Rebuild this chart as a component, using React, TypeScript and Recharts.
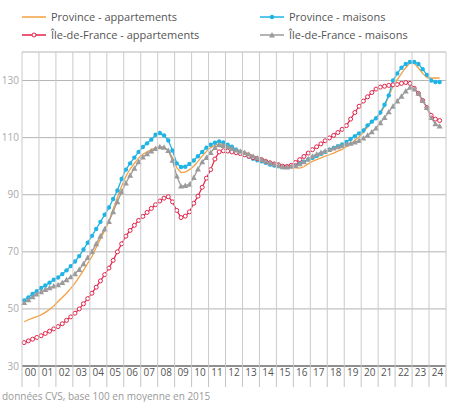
import React from "react"
import { LineChart, Line, XAxis, YAxis, CartesianGrid } from "recharts"

// quarterly indices, 2000 Q1 -> 2024 Q3
const years = ["00", "01", "02", "03", "04", "05", "06", "07", "08", "09", "10", "11", "12",
  "13", "14", "15", "16", "17", "18", "19", "20", "21", "22", "23", "24"]

const provAppart = [
  45.5, 46.2, 46.8, 47.3, 47.9, 48.8, 49.8, 51, 52.6, 54, 55.5, 57.2,
  59, 61.2, 63.5, 66, 68.4, 71.5, 74.5, 77.5, 80.6, 85, 89, 93,
  96.5, 99, 101, 102.8, 104.2, 105, 105.8, 106.5, 106.7, 106.5, 105.5, 103,
  99.5, 97.8, 97.9, 98.8, 100, 101.7, 103.5, 105.2, 106.5, 107.3, 107.9, 107.6,
  107.3, 106.6, 105.9, 105.4, 105, 104.3, 103.6, 103.1, 102.7, 102, 101.3, 100.8,
  100.4, 100, 99.7, 99.5, 99.4, 99.3, 99.8, 100.8, 101.7, 102.3, 102.9, 103.5,
  104, 104.6, 105.3, 105.9, 106.8, 107.8, 109, 110.3, 111.8, 113.8, 115.5, 117,
  118.3, 121, 124.5, 128, 130.2, 132.5, 134.5, 136.2, 136, 134.4, 132.5, 131,
  130.9, 130.9, 130.9,
]

const provMaisons = [
  53, 54, 55.2, 56.2, 57.3, 58.2, 59.2, 60.2, 61, 62.2, 63.5, 65,
  66.6, 68.5, 70.8, 73.2, 75.6, 78, 80.5, 83, 85.5, 88.5, 91.5, 95.5,
  98.8, 101, 103, 105, 106.7, 108, 109.3, 111, 111.6, 110.8, 109, 105.5,
  101, 99.7, 99.8, 100.8, 102, 103.5, 105, 106.5, 107.5, 108.2, 108.7, 108.3,
  107.5, 106.8, 105.8, 105, 104, 103.3, 102.6, 102.1, 101.7, 101.2, 100.6, 100.2,
  100, 99.7, 99.8, 100.1, 100.5, 101, 101.6, 102.3, 102.9, 103.6, 104.3, 105,
  105.8, 106.4, 107, 107.6, 108.5, 109.5, 110.5, 111.5, 112.5, 114.3, 115.6, 116.8,
  118.8, 121.5, 124.8, 130, 132.5, 134.5, 135.8, 136.5, 136.5, 135.8, 134, 132,
  130, 129.5, 129.5,
]

const idfAppart = [
  38.2, 38.8, 39.4, 40, 40.6, 41.4, 42.2, 43, 43.8, 44.8, 46, 47.2,
  48.5, 50, 51.8, 53.6, 55.5, 57.6, 59.8, 62, 64.3, 67, 70, 72.8,
  75.5, 77.5, 79.3, 81, 82.4, 83.8, 85.2, 86.5, 87.8, 88.8, 89.3, 87.5,
  84.5, 82, 82.5, 84, 87, 89.5, 92.6, 95.8, 98.8, 102.5, 105, 105.4,
  105.3, 105, 104.7, 104.4, 104, 103.5, 103, 102.6, 102.3, 101.7, 101.2, 100.8,
  100.5, 100, 99.9, 100.3, 101.3, 102.3, 103.4, 104.6, 105.8, 106.8, 107.8, 108.9,
  109.9, 110.8, 111.8, 112.9, 114.2, 116.5, 118.8, 121, 122.8, 124.3, 125.8, 127,
  127.7, 128, 128.3, 128.5, 128.6, 129, 129.3, 129, 127.3, 125.5, 123, 120.5,
  117.8, 116.5, 116,
]

const idfMaisons = [
  52.2, 53.2, 54.2, 55.2, 56, 56.8, 57.4, 58, 58.4, 59.2, 60.2, 61.2,
  62.3, 63.8, 65.8, 68, 70.1, 72.8, 75.5, 78, 80.6, 84, 87.5, 91,
  94.1, 96.8, 99.2, 101.5, 103.2, 104.3, 105.3, 106.2, 106.8, 106.6, 105.5, 102,
  96.5, 93, 93.2, 93.6, 96, 99, 101.5, 103, 104.8, 106.5, 107.5, 107.2,
  106.8, 106.2, 105.6, 105.2, 104.8, 104.2, 103.5, 102.9, 102.3, 101.8, 101.2, 100.7,
  100.2, 99.8, 99.7, 99.9, 100.2, 100.8, 101.5, 102.5, 103.5, 104.2, 104.8, 105.3,
  105.8, 106.3, 106.8, 107.2, 107.7, 108, 108.4, 109, 109.8, 110.8, 112, 113.3,
  115.2, 117, 119, 121, 122.8, 124.5, 126.3, 127.6, 127, 125.5, 123, 120.5,
  117, 114.8, 114,
]

const yTicks = [30, 50, 70, 90, 110, 130]

const ORANGE = "#f5a043"
const BLUE = "#1eb4e6"
const RED = "#e3234a"
const GREY = "#9b9b9b"
const FONT = "'Liberation Sans Narrow', 'Open Sans', sans-serif"
const MARGIN_TOP = 52

const data = provAppart.map((v, i) => ({
  x: i + 0.5,
  pa: v,
  pm: provMaisons[i],
  ia: idfAppart[i],
  im: idfMaisons[i],
}))

const X_MAX = years.length * 4
// boundaries get a separator + gridline, year midpoints get the label
const xTicks = years.flatMap((_, i) => [i * 4, i * 4 + 2]).concat([X_MAX])

const XTick = (props: any) => {
  const { x, y, payload } = props
  const v = payload.value
  if (v % 4 === 0) {
    return (
      <g>
        <line x1={x} x2={x} y1={MARGIN_TOP} y2={y} stroke="#cacaca" />
        <line x1={x} x2={x} y1={y} y2={y + 21} stroke="#c4c4c4" />
      </g>
    )
  }
  return (
    <text x={x} y={y + 10} textAnchor="middle" fontSize={10} fill="#555" fontFamily={FONT}>
      {years[(v - 2) / 4]}
    </text>
  )
}

const Triangle = (props: any) => {
  const { cx, cy } = props
  if (cx == null || cy == null) return <g />
  return (
    <polygon
      points={`${cx},${cy - 3} ${cx - 3},${cy + 2.4} ${cx + 3},${cy + 2.4}`}
      fill={GREY}
    />
  )
}

const legendItems = [
  { label: "Province - appartements", color: ORANGE, kind: "none", left: 22, top: 10 },
  { label: "Province - maisons", color: BLUE, kind: "dot", left: 260, top: 10 },
  { label: "Île-de-France - appartements", color: RED, kind: "ring", left: 22, top: 28 },
  { label: "Île-de-France - maisons", color: GREY, kind: "tri", left: 260, top: 28 },
]

function LegendIcon({ color, kind }: { color: string; kind: string }) {
  return (
    <svg width={24} height={10} style={{ marginRight: 5 }}>
      <line x1={0} x2={24} y1={5} y2={5} stroke={color} strokeWidth={1.5} />
      {kind === "dot" && <circle cx={12} cy={5} r={2.2} fill={color} />}
      {kind === "ring" && <circle cx={12} cy={5} r={2} fill="#fff" stroke={color} strokeWidth={1} />}
      {kind === "tri" && <polygon points="12,2 9,7.4 15,7.4" fill={color} />}
    </svg>
  )
}

export default function App() {
  return (
    <div style={{ position: "absolute", left: 0, top: 0, width: 461, height: 402, background: "#fff", fontFamily: FONT }}>
      {legendItems.map((it) => (
        <div
          key={it.label}
          style={{ position: "absolute", left: it.left, top: it.top, display: "flex", alignItems: "center", fontSize: 11, color: "#555", lineHeight: "14px", whiteSpace: "nowrap" }}
        >
          <LegendIcon color={it.color} kind={it.kind} />
          {it.label}
        </div>
      ))}
      <LineChart width={461} height={402} data={data} margin={{ top: MARGIN_TOP, right: 0, left: 0, bottom: 15 }}>
        <CartesianGrid vertical={false} stroke="#b4b4b4" />
        <XAxis
          type="number"
          dataKey="x"
          domain={[0, X_MAX]}
          ticks={xTicks}
          tick={<XTick />}
          tickSize={0}
          tickMargin={0}
          tickLine={false}
          axisLine={{ stroke: "#444", strokeWidth: 1.2 }}
          interval={0}
          height={21}
        />
        <YAxis
          domain={[30, 140]}
          ticks={yTicks}
          width={22}
          axisLine={false}
          tickLine={false}
          tickMargin={3}
          tickSize={0}
          tick={{ fontSize: 10, fill: "#aaa", fontFamily: FONT }}
        />
        <YAxis
          yAxisId="r"
          orientation="right"
          domain={[30, 140]}
          ticks={yTicks}
          width={15}
          axisLine={false}
          tickLine={false}
          tickMargin={2}
          tickSize={0}
          tick={{ fontSize: 10, fill: "#aaa", fontFamily: FONT }}
        />
        <Line dataKey="pa" stroke={ORANGE} strokeWidth={1.3} dot={false} isAnimationActive={false} />
        <Line dataKey="pm" stroke={BLUE} strokeWidth={1.3} dot={{ r: 2.2, fill: BLUE, stroke: BLUE, strokeWidth: 0 }} isAnimationActive={false} />
        <Line dataKey="ia" stroke={RED} strokeWidth={1.2} dot={{ r: 2, fill: "#fff", stroke: RED, strokeWidth: 1 }} isAnimationActive={false} />
        <Line dataKey="im" stroke={GREY} strokeWidth={1.3} dot={<Triangle />} isAnimationActive={false} />
      </LineChart>
      <div style={{ position: "absolute", left: 2, top: 390, fontSize: 10, color: "#999", lineHeight: "12px", whiteSpace: "nowrap" }}>
        données CVS, base 100 en moyenne en 2015
      </div>
    </div>
  )
}
